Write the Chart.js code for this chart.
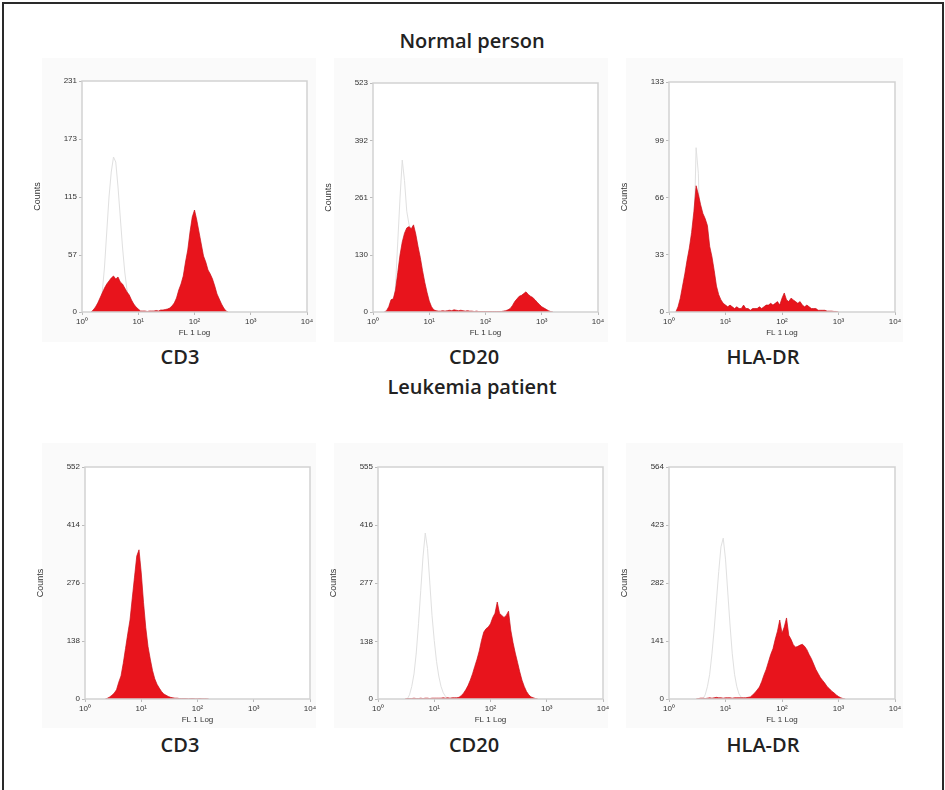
<!DOCTYPE html>
<html>
<head>
<meta charset="utf-8">
<script src="https://cdn.jsdelivr.net/npm/chart.js@4.4.1/dist/chart.umd.min.js"></script>
<style>
  html, body { margin:0; padding:0; background:#fff; }
  #page { position:relative; width:945px; height:790px; overflow:hidden; background:#fff; }
  #frame { position:absolute; left:2px; top:2px; width:938px; height:800px; border:2px solid #2a2a2a; }
  .box { position:absolute; background:#fafafa; }
  canvas { position:absolute; }
  .t { position:absolute; transform:translate(-50%,-50%); white-space:nowrap;
       font-family:"Open Sans","DejaVu Sans",sans-serif;
       font-weight:600; color:#222; font-size:20px; }
</style>
</head>
<body>
<div id="page">
  <div id="frame"></div>
</div>
<script>
// ---------- data (histogram counts on a log-decade grid, step 0.04 decade) ----------
const BIN = 0.04;
const xTickLabels = ['10\u2070','10\u00B9','10\u00B2','10\u00B3','10\u2074'];
const panelTitles = ['CD3','CD20','HLA-DR','CD3','CD20','HLA-DR'];
const groupTitles = ['Normal person','Leukemia patient'];

const yTicksP1 = [0,57,115,173,231];
const yTicksP2 = [0,130,261,392,523];
const yTicksP3 = [0,33,66,99,133];
const yTicksP4 = [0,138,276,414,552];
const yTicksP5 = [0,138,277,416,555];
const yTicksP6 = [0,141,282,423,564];

// Normal person – CD3
const p1RedStart = 0.16;
const p1Red = [0,2,5,9,14,19,24,28,31,34,36,33,35,30,28,24,20,17,12,8,5,3,1,1,
  1,0.5,1,1,1,1.5,1,2,2,2.5,3,4,6,9,14,22,28,36,50,62,80,95,102,92,80,68,56,50,42,38,33,26,18,13,8,4,1,0];
const p1GreyStart = 0.28;
const p1Grey = [0,5,20,45,80,115,140,155,150,125,95,65,40,22,10,4,1,0];

// Normal person – CD20
const p2RedStart = 0.20;
const p2Red = [0,3,12,28,30,50,90,130,160,180,192,195,190,199,178,150,125,95,68,45,25,12,5,3,2,
  2,3,2,3,4,3,5,4,3,4,3,2,3,2,2,1,2,1,1,1,1,1,1,1,1,1,1,1,2,3,5,8,15,24,30,36,38,42,46,40,36,33,28,22,17,12,9,6,3,1,0];
const p2GreyStart = 0.36;
const p2Grey = [0,60,160,260,347,300,230,200,185,150,110,70,40,20,8,2,0];

// Normal person – HLA-DR
const p3RedStart = 0.12;
const p3Red = [0,3,8,15,22,30,37,46,58,73,68,62,57,54,50,38,32,24,15,10,7,5,4,3,4,3,2,3,2,2,4,2,2,1,2,2,2,3,2,3,4,4,5,4,5,6,4,8,11,7,6,8,7,6,5,6,4,3,4,3,2,2,2,1,1,1,1,0.5,0.5,0.5,0.3,0.3,0];
const p3GreyStart = 0.40;
const p3Grey = [0,40,95,80,30,5,0];

// Leukemia patient – CD3
const p4RedStart = 0.36;
const p4Red = [0,2,5,9,14,22,40,55,85,120,155,188,240,290,340,355,300,230,170,125,95,68,48,35,26,18,12,9,6,4,3,2,2,1,1,1,1,0.5,1,1,0.5,0.5,1,0.5,0.5,0.5,0];

// Leukemia patient – CD20
const p5RedStart = 0.48;
const p5Red = [0,1,1,1,2,1,1,2,1,2,2,1,2,2,2,2,2,3,2,3,2,3,3,3,4,8,14,22,32,45,60,78,95,115,140,160,168,172,180,195,205,232,205,200,195,200,210,165,135,110,88,65,45,30,18,10,5,3,1,0];
const p5GreyStart = 0.52;
const p5Grey = [0,10,30,60,110,180,260,340,397,360,280,200,140,90,55,30,15,6,2,0];

// Leukemia patient – HLA-DR
const p6RedStart = 0.48;
const p6Red = [0,1,2,2,1,2,3,2,3,4,3,3,2,3,3,3,2,3,3,3,3,3,3,4,5,10,15,22,29,42,58,72,90,108,122,145,165,192,160,175,197,155,145,132,126,128,131,133,128,120,108,98,85,72,62,52,45,38,30,25,19,15,10,6,3,1,0];
const p6GreyStart = 0.60;
const p6Grey = [0,10,30,60,110,170,240,310,370,391,340,260,180,110,60,30,12,4,0];

// ---------- layout ----------
const page = document.getElementById('page');
function addBox(l,t,w,h){ const d=document.createElement('div'); d.className='box';
  Object.assign(d.style,{left:l+'px',top:t+'px',width:w+'px',height:h+'px'}); page.appendChild(d); }
function addText(txt,x,y){ const d=document.createElement('div'); d.className='t'; d.textContent=txt;
  d.style.left=x+'px'; d.style.top=y+'px'; page.appendChild(d); }

addBox(42,58,274,284); addBox(334,58,274,284); addBox(626,58,277,284);
addBox(42,443,274,285); addBox(334,443,274,285); addBox(626,443,277,285);

addText(groupTitles[0],472,40);
addText(groupTitles[1],472,386);
addText(panelTitles[0],180,356); addText(panelTitles[1],474,356); addText(panelTitles[2],763,356);
addText(panelTitles[3],180,744); addText(panelTitles[4],474,744); addText(panelTitles[5],763,744);

function toPts(start, arr){ return arr.map((v,i)=>({x:+(start+i*BIN).toFixed(3), y:v})); }

const areaPlugin = {
  id:'area',
  beforeDatasetsDraw(chart){ const a=chart.chartArea, c=chart.ctx; c.save(); c.fillStyle='#fff';
    c.fillRect(a.left,a.top,a.right-a.left,a.bottom-a.top); c.restore(); },
  afterDatasetsDraw(chart){ const a=chart.chartArea, c=chart.ctx; c.save(); c.strokeStyle='#d2d2d2'; c.lineWidth=1.5;
    c.strokeRect(a.left,a.top,a.right-a.left,a.bottom-a.top); c.restore(); }
};

const XH = 27;
function makePanel(L,T,R,B, yTicks, red, grey){
  const cv=document.createElement('canvas');
  const W=R-L+60, H=B-T+10+XH;
  cv.width=W; cv.height=H;
  Object.assign(cv.style,{left:(L-50)+'px',top:(T-10)+'px',width:W+'px',height:H+'px'});
  page.appendChild(cv);
  const ds=[];
  if(grey) ds.push({data:grey, borderColor:'#e0e0e0', borderWidth:1, fill:false, pointRadius:0, tension:0, order:2});
  ds.push({data:red, borderColor:'#c90f17', borderWidth:0.7, backgroundColor:'#e8141c', fill:'origin', pointRadius:0, tension:0, order:1});
  const ymax=yTicks[yTicks.length-1];
  new Chart(cv,{
    type:'line',
    data:{datasets:ds},
    options:{
      responsive:false, animation:false, events:[],
      layout:{padding:{top:10,right:10,left:0,bottom:0}},
      plugins:{legend:{display:false}, tooltip:{enabled:false}},
      scales:{
        x:{type:'linear', min:0, max:4,
           afterFit(s){ s.height=XH; },
           afterBuildTicks(s){ s.ticks=[0,1,2,3,4].map(v=>({value:v})); },
           ticks:{callback:(v)=>xTickLabels[v], font:{family:'Liberation Sans', size:8}, color:'#333', padding:2, maxRotation:0},
           grid:{display:true, drawOnChartArea:false, tickLength:3, color:'#bbb'},
           border:{display:false},
           title:{display:true, text:'FL 1 Log', font:{family:'Liberation Sans', size:8}, color:'#333', padding:{top:0,bottom:1}}},
        y:{min:0, max:ymax,
           afterFit(s){ s.width=50; },
           afterBuildTicks(s){ s.ticks=yTicks.map(v=>({value:v})); },
           ticks:{callback:(v)=>String(v), font:{family:'Liberation Sans', size:8}, color:'#333', padding:2},
           grid:{display:true, drawOnChartArea:false, tickLength:3, color:'#bbb'},
           border:{display:false},
           title:{display:true, text:'Counts', font:{family:'Liberation Sans', size:9}, color:'#333', padding:{top:0,bottom:0}}}
      }
    },
    plugins:[areaPlugin]
  });
}

makePanel(82,81,307,312, yTicksP1, toPts(p1RedStart,p1Red), toPts(p1GreyStart,p1Grey));
makePanel(373,83,598,312, yTicksP2, toPts(p2RedStart,p2Red), toPts(p2GreyStart,p2Grey));
makePanel(669,82,895,312, yTicksP3, toPts(p3RedStart,p3Red), toPts(p3GreyStart,p3Grey));
makePanel(85,467,310,699, yTicksP4, toPts(p4RedStart,p4Red), null);
makePanel(378,467,603,699, yTicksP5, toPts(p5RedStart,p5Red), toPts(p5GreyStart,p5Grey));
makePanel(669,467,895,699, yTicksP6, toPts(p6RedStart,p6Red), toPts(p6GreyStart,p6Grey));
</script>
</body>
</html>
